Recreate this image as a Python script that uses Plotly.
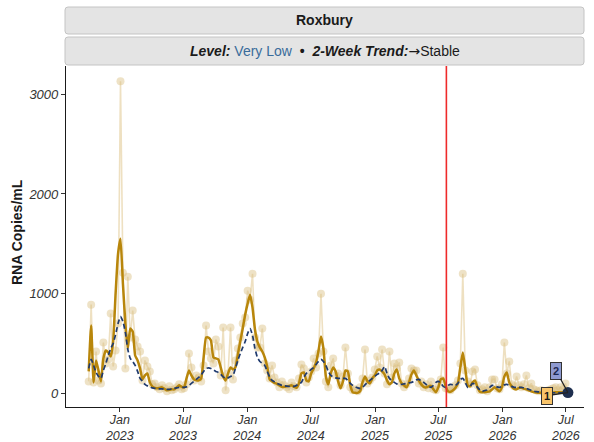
import pandas as pd
import plotly.graph_objects as go

# ---------------- data ----------------
start_date = "2022-10-04"   # weekly samples

raw_vals = [
    120, 890, 110, 420, 130, 100, 510, 300, 340, 800,
    270, 430, 700, 3130, 1210, 250, 1170, 560, 830, 540,
    470, 420, 130, 330, 270, 220, 90, 100, 60, 40,
    80, 50, 20, 70, 30, 40, 60, 90, 40, 50,
    90, 400, 260, 130, 180, 160, 120, 280, 680, 420,
    350, 300, 540, 470, 180, 660, 30, 200, 660, 140,
    330, 450, 560, 700, 760, 1030, 940, 1200, 560, 460,
    460, 650, 300, 230, 150, 280, 160, 110, 60, 120,
    80, 60, 40, 110, 70, 60, 150, 290, 250, 110,
    160, 220, 350, 260, 400, 1000, 420, 120, 60, 280,
    350, 180, 200, 80, 170, 460, 200, 60, 30, 40,
    20, 60, 150, 440, 100, 130, 160, 240, 370, 260,
    440, 200, 90, 420, 160, 300, 250, 310, 100, 60,
    90, 150, 250, 230, 230, 100, 120, 60, 90, 50,
    120, 40, 30, 90, 140, 460, 50, 40, 30, 60,
    80, 130, 300, 1200, 230, 120, 90, 220, 240, 80,
    30, 40, 60, 20, 60, 140, 140, 50, 40, 90,
    510, 200, 320, 90, 70, 170, 80, 60, 90, 180,
    50, 100, 40, 30, 20, 30, 10, 20, 30, 40,
    50, 60, 30, 60, 40, 100, 10,
]

smooth_vals = [
    220, 680, 110, 330, 230, 120, 350, 430, 410, 370,
    520, 1000, 1400, 1550, 1100, 700, 450, 650, 620, 380,
    330, 250, 140, 180, 200, 110, 70, 55, 50, 55,
    60, 45, 30, 35, 40, 40, 60, 80, 65, 60,
    150, 230, 180, 140, 130, 130, 150, 360, 560, 560,
    530, 360, 350, 340, 260, 170, 130, 200, 260, 240,
    260, 390, 520, 650, 790, 900, 990, 860, 640, 520,
    460, 420, 360, 270, 140, 120, 105, 95, 80, 65,
    65, 70, 75, 80, 65, 55, 100, 200, 210, 130,
    120, 200, 250, 310, 430, 570, 450, 170, 90, 200,
    260, 220, 120, 50, 120, 230, 220, 80, 10, 5,
    5, 20, 110, 170, 120, 100, 150, 180, 230, 240,
    220, 190, 130, 90, 110, 200, 240, 150, 100, 80,
    60, 110, 190, 230, 180, 130, 90, 65, 60, 70,
    75, 40, 10, 60, 140, 150, 70, 20, 15, 30,
    55, 100, 260, 410, 250, 80, 70, 110, 130, 60,
    15, 10, 12, 15, 20, 40, 60, 40, 20, 60,
    170, 210, 110, 70, 45, 40, 55, 55, 45, 40,
    30, 20, 12, 8, 5, 5, 3, 3, 5, 5,
    8, 10, 10, 12, 12, 10, 8,
]

trend_vals = [
    250, 340, 280, 210, 170, 150, 230, 300, 380, 450,
    500, 590, 700, 770, 720, 610, 440, 350, 320, 280,
    220, 150, 120, 90, 75, 65, 55, 50, 50, 45,
    45, 40, 40, 40, 45, 50, 55, 60, 60, 60,
    65, 80, 100, 120, 140, 160, 185, 220, 250, 255,
    250, 235, 220, 210, 190, 165, 150, 155, 170, 180,
    250, 330, 400, 460, 520, 600, 650, 580, 450, 360,
    320, 300, 280, 220, 165, 130, 115, 100, 90, 80,
    75, 72, 70, 70, 70, 80, 95, 110, 160, 200,
    220, 240, 260, 290, 320, 340, 320, 280, 220, 180,
    165, 155, 150, 150, 150, 150, 130, 100, 80, 65,
    55, 50, 60, 85, 110, 130, 150, 170, 190, 205,
    230, 270, 200, 150, 130, 110, 95, 90, 90, 95,
    100, 105, 110, 120, 135, 140, 125, 110, 90, 70,
    60, 80, 110, 120, 100, 70, 60, 80, 90, 85,
    80, 100, 140, 150, 110, 60, 70, 100, 90, 60,
    35, 20, 28, 35, 60, 80, 75, 65, 60, 70,
    85, 90, 80, 70, 60, 60, 60, 60, 55, 50,
    40, 30, 22, 18, 15, 12, 10, 9, 8, 7,
    6, 6, 5, 5, 5, 4, 4,
]

tick_dates = ["2023-01-01", "2023-07-01", "2024-01-01", "2024-07-01",
              "2025-01-01", "2025-07-01", "2026-01-01", "2026-07-01"]
tick_labels = ["Jan<br>2023", "Jul<br>2023", "Jan<br>2024", "Jul<br>2024",
               "Jan<br>2025", "Jul<br>2025", "Jan<br>2026", "Jul<br>2026"]
y_ticks = [0, 1000, 2000, 3000]
marker_date = "2025-07-24"
site_name = "Roxbury"
level_text = "Very Low"
trend_text = "Stable"

raw_dates = pd.date_range(start_date, periods=len(raw_vals), freq="7D")
smooth_dates = pd.date_range(start_date, periods=len(smooth_vals), freq="7D")
trend_dates = pd.date_range(start_date, periods=len(trend_vals), freq="7D")

# ---------------- figure ----------------
W, H = 594, 442
L, R, T, B = 66, 10, 66, 35
PW, PH = W - L - R, H - T - B
FONT = "Liberation Sans, Arial, sans-serif"

fig = go.Figure()
fig.add_trace(go.Scatter(
    x=raw_dates, y=raw_vals, mode="lines+markers",
    line=dict(color="rgba(232,214,172,0.75)", width=1.6),
    marker=dict(size=8, color="rgba(218,190,128,0.45)", line=dict(width=0)),
    hoverinfo="skip", showlegend=False))
fig.add_trace(go.Scatter(
    x=smooth_dates, y=smooth_vals, mode="lines",
    line=dict(color="#B8860B", width=2.5, shape="spline", smoothing=0.45),
    showlegend=False))
fig.add_trace(go.Scatter(
    x=trend_dates, y=trend_vals, mode="lines",
    line=dict(color="#1F3A6E", width=1.7, dash="5px,3px", shape="spline", smoothing=0.6),
    showlegend=False))
fig.add_trace(go.Scatter(
    x=[smooth_dates[-1]], y=[smooth_vals[-1]], mode="markers",
    marker=dict(size=11, color="#1E2F4F"), showlegend=False))

fig.add_shape(type="line", xref="x", yref="paper", x0=marker_date, x1=marker_date,
              y0=0, y1=1, line=dict(color="#EE2A2A", width=1.6), layer="above")


def px2paper(px, py):
    return (px - L) / PW, (H - B - py) / PH


def rounded_rect(x0, y0, x1, y1, r):
    pts = [("M", x0 + r, y0), ("L", x1 - r, y0), ("Q", x1, y0, x1, y0 + r),
           ("L", x1, y1 - r), ("Q", x1, y1, x1 - r, y1), ("L", x0 + r, y1),
           ("Q", x0, y1, x0, y1 - r), ("L", x0, y0 + r), ("Q", x0, y0, x0 + r, y0)]
    s = ""
    for p in pts:
        cmd = p[0]
        coords = p[1:]
        parts = []
        for i in range(0, len(coords), 2):
            a, b = px2paper(coords[i], coords[i + 1])
            parts.append(f"{a:.5f},{b:.5f}")
        s += cmd + " " + " ".join(parts) + " "
    return s + "Z"


for (y0, y1) in [(7, 34), (37, 65)]:
    fig.add_shape(type="path", xref="paper", yref="paper",
                  path=rounded_rect(65, y0, 584, y1, 3),
                  fillcolor="#E4E4E4", line=dict(color="#C4C4C4", width=1))

cx = px2paper((65 + 584) / 2, 0)[0]
fig.add_annotation(xref="paper", yref="paper", x=cx, y=px2paper(0, 20.5)[1],
                   text=f"<b>{site_name}</b>", showarrow=False,
                   font=dict(size=14, color="#1A1A1A", family=FONT),
                   xanchor="center", yanchor="middle")
fig.add_annotation(xref="paper", yref="paper", x=cx, y=px2paper(0, 51)[1],
                   text=(f"<b><i>Level:</i></b> <span style='color:#3A6C9B'>{level_text}</span>"
                         f"  <b>•</b>  <b><i>2-Week Trend:</i></b>"
                         f"<span style='font-family:DejaVu Sans'>→</span>{trend_text}"),
                   showarrow=False, font=dict(size=14, color="#1A1A1A", family=FONT),
                   xanchor="center", yanchor="middle")

fig.add_annotation(xref="paper", yref="paper", x=px2paper(17, 0)[0], y=px2paper(0, 232)[1],
                   text="<b>RNA Copies/mL</b>", textangle=-90, showarrow=False,
                   font=dict(size=14, color="#1A1A1A", family=FONT),
                   xanchor="center", yanchor="middle")

# labels 1 and 2 at the latest point
fig.add_annotation(x=smooth_dates[-1], y=smooth_vals[-1], text="<b>1</b>",
                   showarrow=True, arrowhead=0, ax=-21, ay=3, arrowcolor="#222",
                   arrowwidth=1.3, bgcolor="#F8C46A", bordercolor="#333", borderwidth=1,
                   borderpad=2, font=dict(size=11, color="#1A1A1A", family=FONT))
fig.add_annotation(x=smooth_dates[-1], y=smooth_vals[-1], text="<b>2</b>",
                   showarrow=True, arrowhead=0, ax=-12, ay=-22, arrowcolor="#222",
                   arrowwidth=1.3, bgcolor="#8E9AD0", bordercolor="#333", borderwidth=1,
                   borderpad=2, font=dict(size=11, color="#1C2850", family=FONT))

fig.update_layout(
    width=W, height=H, margin=dict(l=L, r=R, t=T, b=B, autoexpand=False),
    paper_bgcolor="white", plot_bgcolor="white",
    font=dict(family=FONT, size=12, color="#333333"),
    xaxis=dict(range=["2022-07-31", "2026-08-22"], tickvals=tick_dates,
               ticktext=[f"<i>{t}</i>" for t in tick_labels], automargin=False,
               showgrid=False, zeroline=False, showline=True, linecolor="#1A1A1A",
               linewidth=1.2, ticks="outside", ticklen=4, tickcolor="#333",
               ticklabelstandoff=-3,
               tickfont=dict(size=12.5, color="#333333", family=FONT)),
    yaxis=dict(range=[-137, 3284], tickvals=y_ticks,
               ticktext=[f"<i>{v}</i>" for v in y_ticks], automargin=False,
               showgrid=False, zeroline=False, showline=True, linecolor="#1A1A1A",
               linewidth=1.2, ticks="outside", ticklen=4, tickcolor="#333",
               tickfont=dict(size=13, color="#333333", family=FONT)),
    showlegend=False,
)

fig.write_html("out.html", config={"displayModeBar": False},
               post_script="document.body.style.margin='0';document.body.style.padding='0';")
